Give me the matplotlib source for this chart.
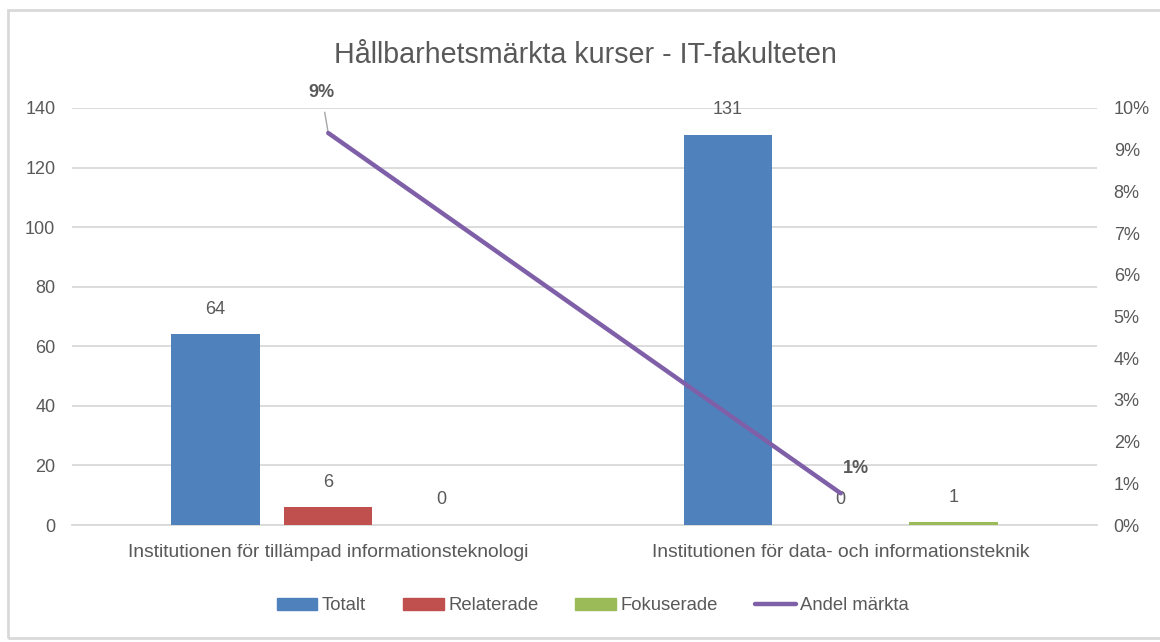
import matplotlib
matplotlib.use("Agg")
import matplotlib.pyplot as plt
import numpy as np
from matplotlib.patches import Patch, Rectangle
from matplotlib.lines import Line2D
from matplotlib.ticker import FuncFormatter
from matplotlib import font_manager

# ---- data ----
categories = ["Institutionen för tillämpad informationsteknologi",
              "Institutionen för data- och informationsteknik"]
totalt = [64, 131]
relaterade = [6, 0]
fokuserade = [0, 1]
andel_markta = [0.094, 0.0076]
andel_labels = ["9%", "1%"]
series_names = ["Totalt", "Relaterade", "Fokuserade", "Andel märkta"]
title = "Hållbarhetsmärkta kurser - IT-fakulteten"
left_ticks = list(range(0, 141, 20))
right_ticks = [i / 100 for i in range(0, 11)]

# ---- style ----
names = {f.name for f in font_manager.fontManager.ttflist}
fam = "Liberation Sans Narrow" if "Liberation Sans Narrow" in names else "Liberation Sans"
plt.rcParams['font.family'] = [fam, 'DejaVu Sans']
txt = "#595959"
c_tot, c_rel, c_fok, c_line = "#4F81BD", "#C0504D", "#9BBB59", "#7F60A8"
grid_c = "#D9D9D9"

fig = plt.figure(figsize=(11.6, 6.42), dpi=100)
W, H = 1160, 642
ax = fig.add_axes([72 / W, 1 - 525 / H, (1097 - 72) / W, (525 - 108) / H])
ax2 = ax.twinx()

x = np.arange(len(categories))
bw = 0.172
off = 0.22
series = [(totalt, c_tot, -off), (relaterade, c_rel, 0.0), (fokuserade, c_fok, off)]
for vals, col, o in series:
    bars = ax.bar(x + o, vals, width=bw, color=col, zorder=3)
    for b, v in zip(bars, vals):
        ax.annotate(f"{v}", (b.get_x() + b.get_width() / 2, v),
                    xytext=(0, 18), textcoords="offset points",
                    ha="center", va="center", fontsize=13, color=txt, zorder=5)

ax.set_xlim(-0.5, len(categories) - 0.5)
ax.set_ylim(0, 140)
ax.set_yticks(left_ticks)
ax.set_xticks(x)
ax.set_xticklabels(categories)
ax.yaxis.grid(True, color=grid_c, linewidth=1.3, zorder=0)
ax.set_axisbelow(True)
for s in ax.spines.values():
    s.set_visible(False)
for s in ax2.spines.values():
    s.set_visible(False)
ax.spines['bottom'].set_visible(True)
ax.spines['bottom'].set_color(grid_c)
ax.spines['bottom'].set_linewidth(1.3)
ax.tick_params(axis='y', length=0, pad=12, labelsize=13, labelcolor=txt)
ax.tick_params(axis='x', length=0, pad=14, labelsize=13.9, labelcolor=txt)

ax2.plot(x, andel_markta, color=c_line, linewidth=3.2, solid_capstyle='round', zorder=4)
ax2.set_ylim(0, 0.10)
ax2.set_yticks(right_ticks)
ax2.yaxis.set_major_formatter(FuncFormatter(lambda v, p: f"{v * 100:.0f}%"))
ax2.tick_params(axis='y', length=0, pad=12, labelsize=13, labelcolor=txt)

ax2.annotate(andel_labels[0], (x[0], andel_markta[0]), xytext=(-5, 29),
             textcoords="offset points", ha="center", va="center",
             fontsize=13, fontweight="bold", color=txt,
             arrowprops=dict(arrowstyle="-", color="#A6A6A6", lw=1,
                             shrinkA=6, shrinkB=0))
ax2.annotate(andel_labels[1], (x[1], andel_markta[1]), xytext=(11, 18),
             textcoords="offset points", ha="center", va="center",
             fontsize=13, fontweight="bold", color=txt)

fig.text(0.505, 1 - 55 / H, title, ha="center", va="center", fontsize=20.6, color=txt)

handles = [Patch(color=c_tot), Patch(color=c_rel), Patch(color=c_fok),
           Line2D([0], [0], color=c_line, linewidth=3.2, solid_capstyle='round')]
fig.legend(handles, series_names, loc="center", bbox_to_anchor=(0.511, 1 - 606 / H),
           ncol=4, frameon=False, fontsize=13.3, labelcolor=txt,
           handlelength=2.2, handleheight=0.55, handletextpad=0.25, columnspacing=2.0)

fig.patches.append(Rectangle((8 / W, 1 - 638 / H), 1.2, (638 - 10) / H,
                             transform=fig.transFigure, fill=False,
                             edgecolor="#D9D9D9", linewidth=2))

fig.savefig("out.png", dpi=100)
